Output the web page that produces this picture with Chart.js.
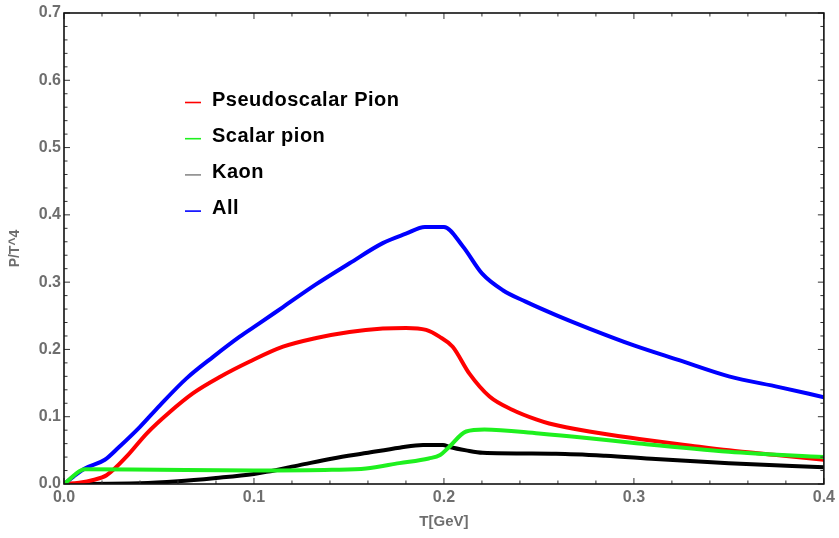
<!DOCTYPE html>
<html>
<head>
<meta charset="utf-8">
<script src="https://cdn.jsdelivr.net/npm/chart.js@4"></script>
<style>
  html, body { margin: 0; padding: 0; background: #fff; }
  #wrap { width: 839px; height: 538px; }
</style>
</head>
<body>
<div id="wrap"><canvas id="c" width="839" height="538"></canvas></div>
<script>
// temperature grid (GeV) and P/T^4 for each channel
const pionT  = [0, 0.008, 0.0154, 0.0224, 0.033, 0.0435, 0.0557, 0.068, 0.082, 0.0978, 0.1153, 0.1328, 0.1503, 0.1678, 0.180, 0.1906, 0.1976, 0.2046, 0.2134, 0.224, 0.2362, 0.2485, 0.2554, 0.2765, 0.3028, 0.33, 0.35, 0.375, 0.4];
const pionP  = [0, 0.002, 0.006, 0.013, 0.041, 0.075, 0.107, 0.135, 0.159, 0.182, 0.204, 0.217, 0.226, 0.231, 0.232, 0.229, 0.219, 0.204, 0.164, 0.130, 0.110, 0.096, 0.090, 0.078, 0.067, 0.057, 0.050, 0.043, 0.036];

const scalarT = [0, 0.011, 0.05, 0.1, 0.141, 0.159, 0.1766, 0.192, 0.198, 0.202, 0.2117, 0.2213, 0.25, 0.2765, 0.30, 0.35, 0.4];
const scalarP = [0, 0.022, 0.021, 0.020, 0.021, 0.023, 0.031, 0.038, 0.043, 0.053, 0.078, 0.081, 0.075, 0.068, 0.061, 0.048, 0.040];

const kaonT = [0, 0.04, 0.06, 0.08, 0.1, 0.1065, 0.124, 0.1415, 0.159, 0.1766, 0.189, 0.1995, 0.203, 0.2117, 0.2204, 0.259, 0.285, 0.3115, 0.35, 0.4];
const kaonP = [0, 0.001, 0.004, 0.009, 0.015, 0.018, 0.028, 0.038, 0.046, 0.054, 0.058, 0.058, 0.055, 0.050, 0.0465, 0.045, 0.042, 0.037, 0.031, 0.025];

const allT = [0, 0.005, 0.011, 0.0215, 0.029, 0.040, 0.0505, 0.0645, 0.0785, 0.0925, 0.103, 0.1153, 0.1328, 0.1503, 0.1678, 0.180, 0.19, 0.2, 0.21, 0.22, 0.231, 0.243, 0.259, 0.2765, 0.30, 0.3238, 0.35, 0.3764, 0.4];
const allP = [0, 0.011, 0.023, 0.036, 0.055, 0.085, 0.117, 0.157, 0.189, 0.219, 0.239, 0.263, 0.297, 0.328, 0.358, 0.372, 0.382, 0.382, 0.353, 0.313, 0.288, 0.271, 0.251, 0.231, 0.206, 0.184, 0.160, 0.144, 0.129];

const labels = ['Pseudoscalar Pion', 'Scalar pion', 'Kaon', 'All'];
const xTicks = [0, 0.1, 0.2, 0.3, 0.4];
const yTicks = [0, 0.1, 0.2, 0.3, 0.4, 0.5, 0.6, 0.7];

const pts = (xs, ys) => xs.map((x, i) => ({ x, y: ys[i] }));

const series = [
  { label: labels[0], data: pts(pionT, pionP),     color: '#ff0000', key: '#ff0000', order: 2 },
  { label: labels[1], data: pts(scalarT, scalarP), color: '#1ef01e', key: '#1ef01e', order: 0 },
  { label: labels[2], data: pts(kaonT, kaonP),     color: '#000000', key: '#8a8a8a', order: 3 },
  { label: labels[3], data: pts(allT, allP),       color: '#0000ff', key: '#0000ff', order: 1 }
];

// frame with inward ticks on all four sides
const frame = {
  id: 'frame',
  afterDatasetsDraw(chart) {
    const { ctx, chartArea: a, scales: { x, y } } = chart;
    ctx.save();
    ctx.strokeStyle = '#333';
    ctx.lineWidth = 1;
    for (let i = 0; i <= 20; i++) {
      const px = x.getPixelForValue(i * 0.02);
      const len = i % 5 === 0 ? 6 : 3.5;
      ctx.beginPath();
      ctx.moveTo(px, a.bottom); ctx.lineTo(px, a.bottom - len);
      ctx.moveTo(px, a.top); ctx.lineTo(px, a.top + len);
      ctx.stroke();
    }
    for (let i = 0; i <= 35; i++) {
      const py = y.getPixelForValue(i * 0.02);
      const len = i % 5 === 0 ? 6 : 3.5;
      ctx.beginPath();
      ctx.moveTo(a.left, py); ctx.lineTo(a.left + len, py);
      ctx.moveTo(a.right, py); ctx.lineTo(a.right - len, py);
      ctx.stroke();
    }
    ctx.strokeStyle = '#111';
    ctx.lineWidth = 1.6;
    ctx.strokeRect(a.left, a.top, a.right - a.left, a.bottom - a.top);
    ctx.restore();
  }
};

// key placed inside the plot, upper left
const key = {
  id: 'key',
  afterDraw(chart) {
    const { ctx } = chart;
    ctx.save();
    ctx.font = 'bold 20px "Liberation Sans", Arial, sans-serif';
    ctx.letterSpacing = '0.5px';
    ctx.textBaseline = 'alphabetic';
    ctx.fillStyle = '#000';
    series.forEach((s, i) => {
      const base = 105.5 + i * 36.2;
      ctx.strokeStyle = s.key;
      ctx.lineWidth = 1.6;
      ctx.beginPath();
      ctx.moveTo(185, base - 3); ctx.lineTo(201, base - 3);
      ctx.stroke();
      ctx.fillText(s.label, 212, base);
    });
    ctx.restore();
  }
};

const tickFont = { family: '"Liberation Sans", Arial, sans-serif', size: 16, weight: 'bold' };
const titleFont = { family: '"Liberation Sans", Arial, sans-serif', size: 15, weight: 'bold' };

new Chart(document.getElementById('c'), {
  type: 'line',
  data: {
    datasets: series.map(s => ({
      label: s.label,
      data: s.data,
      borderColor: s.color,
      backgroundColor: s.color,
      borderWidth: 4,
      pointRadius: 0,
      tension: 0,
      cubicInterpolationMode: 'monotone',
      order: s.order,
      borderJoinStyle: 'round',
      borderCapStyle: 'round'
    }))
  },
  options: {
    responsive: false,
    animation: false,
    layout: { padding: { top: 13, right: 14, left: 0, bottom: 0 } },
    plugins: { legend: { display: false }, tooltip: { enabled: false } },
    scales: {
      x: {
        type: 'linear', min: 0, max: 0.4,
        grid: { display: false, drawTicks: false },
        border: { display: false },
        afterBuildTicks: s => { s.ticks = xTicks.map(v => ({ value: v })); },
        ticks: { color: '#6e6e6e', font: tickFont, padding: 4, maxRotation: 0, callback: v => v.toFixed(1) },
        title: { display: true, text: 'T[GeV]', color: '#6e6e6e', font: titleFont, padding: { top: 0, bottom: 7 } },
        afterFit: s => { s.height = 54; }
      },
      y: {
        type: 'linear', min: 0, max: 0.7,
        grid: { display: false, drawTicks: false },
        border: { display: false },
        afterBuildTicks: s => { s.ticks = yTicks.map(v => ({ value: v })); },
        ticks: { color: '#6e6e6e', font: tickFont, padding: 3, callback: v => v.toFixed(1) },
        title: { display: true, text: 'P/T^4', color: '#6e6e6e', font: { ...titleFont, size: 14 }, padding: { top: 7, bottom: 0 } },
        afterFit: s => { s.width = 64; }
      }
    }
  },
  plugins: [frame, key]
});
</script>
</body>
</html>
